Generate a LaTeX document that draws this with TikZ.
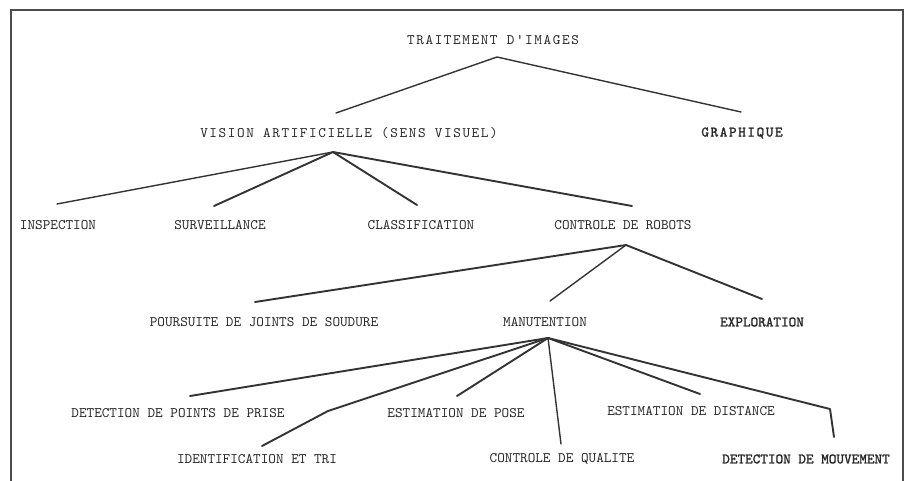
\documentclass[tikz,border=0pt]{standalone}
\usepackage{fontspec}
\newfontfamily\tyreg{lmmono10-regular.otf}
\newfontfamily\tybold[FakeBold=1.5]{lmmono10-regular.otf}
\newfontfamily\tywreg[LetterSpace=11]{lmmono10-regular.otf}
\newfontfamily\tywbold[LetterSpace=11,FakeBold=1.5]{lmmono10-regular.otf}
\begin{document}
\begin{tikzpicture}[x=1pt,y=-1pt,
  lbl/.style={inner sep=0pt,text=black!85,font=\tyreg\fontsize{14.5}{16}\selectfont},
  wlbl/.style={inner sep=0pt,text=black!85,font=\tywreg\fontsize{14.5}{16}\selectfont},
  blbl/.style={inner sep=0pt,text=black!85,font=\tybold\fontsize{14.5}{16}\selectfont},
  wblbl/.style={inner sep=0pt,text=black!85,font=\tywbold\fontsize{14.5}{16}\selectfont},
  branch/.style={draw=black!80,line width=1.4pt,line cap=round,line join=round},
  thick branch/.style={branch,line width=1.9pt},
  frame/.style={draw=black!70,line width=1.4pt}]
\useasboundingbox (0,0) rectangle (909,481);
\draw[frame] (11,481) -- (11,10) -- (903,10) -- (903,481);

% labels
\node[wlbl] (t0) at (493,40) {TRAITEMENT D'IMAGES};
\node[wlbl] (v) at (349,133) {VISION ARTIFICIELLE (SENS VISUEL)};
\node[wblbl] (g) at (742,133) {GRAPHIQUE};
\node[lbl] (ins) at (58,225) {INSPECTION};
\node[lbl] (sur) at (220,225) {SURVEILLANCE};
\node[lbl] (cla) at (421,225) {CLASSIFICATION};
\node[lbl] (cr) at (623,225) {CONTROLE DE ROBOTS};
\node[lbl] (pou) at (264,322) {POURSUITE DE JOINTS DE SOUDURE};
\node[lbl] (man) at (545,322) {MANUTENTION};
\node[blbl] (exp) at (762,322) {EXPLORATION};
\node[lbl] (dpp) at (178,413) {DETECTION DE POINTS DE PRISE};
\node[lbl] (ep) at (456,413) {ESTIMATION DE POSE};
\node[lbl] (ed) at (691,411) {ESTIMATION DE DISTANCE};
\node[lbl] (it) at (257,459) {IDENTIFICATION ET TRI};
\node[lbl] (cq) at (562,459) {CONTROLE DE QUALITE};
\node[blbl] (dm) at (806,459) {DETECTION DE MOUVEMENT};

% branch points
\coordinate (a0) at (497,57);
\coordinate (a0v) at (336,113);
\coordinate (a0g) at (741,112);
\coordinate (a1) at (333,152);
\coordinate (a1ins) at (57,204);
\coordinate (a1sur) at (214,206);
\coordinate (a1cla) at (417,205);
\coordinate (a1cr) at (632,206);
\coordinate (a2) at (626,245);
\coordinate (a2pou) at (255,302);
\coordinate (a2man) at (550,301);
\coordinate (a2exp) at (762,299);
\coordinate (a3) at (548,338);
\coordinate (a3dpp) at (190,396);
\coordinate (a3itb) at (328,411);
\coordinate (a3it) at (262,446);
\coordinate (a3ep) at (457,396);
\coordinate (a3cq) at (561,444);
\coordinate (a3ed) at (700,394);
\coordinate (a3dmb) at (830,409);
\coordinate (a3dm) at (834,437);

% connectors
\draw[branch] (a0v) -- (a0) -- (a0g);
\draw[branch] (a1) -- (a1ins);
\draw[thick branch] (a1) -- (a1sur);
\draw[thick branch] (a1) -- (a1cla);
\draw[thick branch] (a1) -- (a1cr);
\draw[thick branch] (a2) -- (a2pou);
\draw[branch] (a2) -- (a2man);
\draw[thick branch] (a2) -- (a2exp);
\draw[thick branch] (a3) -- (a3dpp);
\draw[thick branch] (a3) -- (a3itb) -- (a3it);
\draw[thick branch] (a3) -- (a3ep);
\draw[branch] (a3) -- (a3cq);
\draw[thick branch] (a3) -- (a3ed);
\draw[thick branch] (a3) -- (a3dmb) -- (a3dm);
\end{tikzpicture}
\end{document}
